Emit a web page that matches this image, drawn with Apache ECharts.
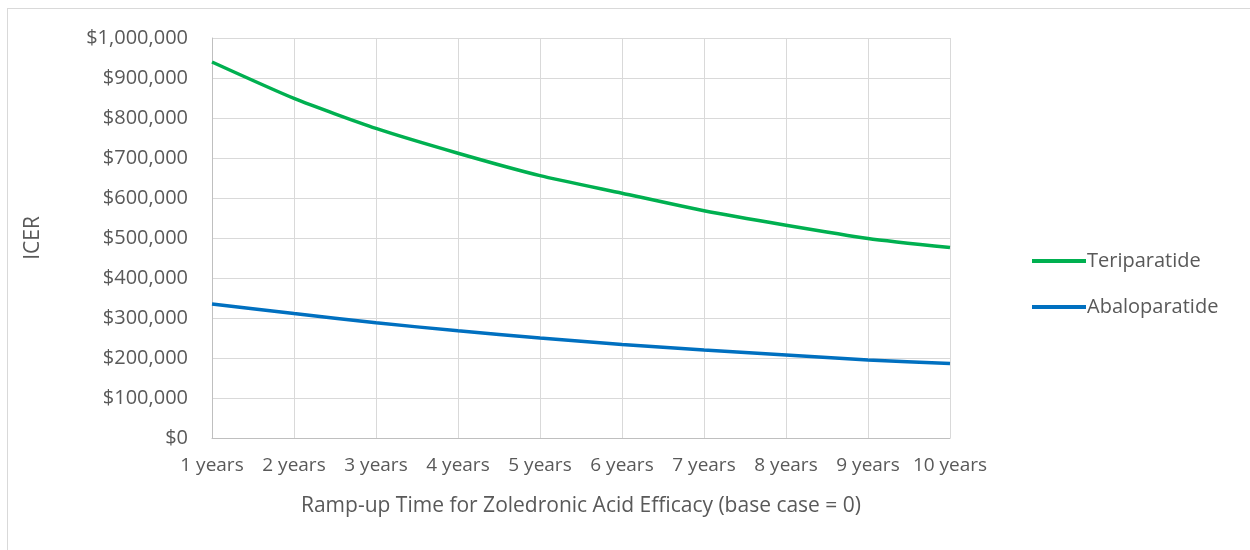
<!DOCTYPE html>
<html>
<head>
<meta charset="utf-8">
<script src="https://cdn.jsdelivr.net/npm/echarts@6/dist/echarts.min.js"></script>
<style>
  html, body { margin: 0; padding: 0; background: #fff; }
  #frame { position: absolute; left: 7px; top: 8px; width: 1250px; height: 550px; border: 1px solid #d9d9d9; box-sizing: border-box; }
  #chart { width: 1250px; height: 550px; }
</style>
</head>
<body>
<div id="frame"></div>
<div id="chart"></div>
<script>
// ramp-up time categories
const years = ['1 years', '2 years', '3 years', '4 years', '5 years', '6 years', '7 years', '8 years', '9 years', '10 years']

// ICER values
const teriparatide = [940000, 849000, 774000, 712000, 656000, 612000, 568000, 532000, 499000, 476000]
const abaloparatide = [335000, 311000, 288000, 268000, 250000, 234000, 220000, 207500, 195000, 186000]

const textColor = '#595959'
const font = '"Open Sans", "Noto Sans", sans-serif'

const chart = echarts.init(document.getElementById('chart'))
chart.setOption({
  animation: false,
  textStyle: { fontFamily: font },
  grid: { left: 212, top: 38, right: 300, bottom: 112 },
  legend: {
    orient: 'vertical',
    left: 1032,
    top: 251,
    padding: 0,
    itemWidth: 54,
    itemHeight: 4,
    itemGap: 26,
    icon: 'rect',
    textStyle: { color: textColor, fontSize: 20, fontFamily: font, padding: [0, 0, 0, -4] },
    data: ['Teriparatide', 'Abaloparatide']
  },
  xAxis: {
    type: 'category',
    data: years,
    boundaryGap: false,
    name: 'Ramp-up Time for Zoledronic Acid Efficacy (base case = 0)',
    nameLocation: 'middle',
    nameGap: 58,
    nameTextStyle: { color: textColor, fontSize: 21, fontFamily: font },
    axisLine: { lineStyle: { color: '#bfbfbf', width: 1 } },
    axisTick: { show: false },
    axisLabel: { color: textColor, fontSize: 19, margin: 18, interval: 0, fontFamily: font },
    splitLine: { show: true, interval: 0, lineStyle: { color: '#d9d9d9', width: 1 } }
  },
  yAxis: {
    type: 'value',
    min: 0,
    max: 1000000,
    interval: 100000,
    name: 'ICER',
    nameLocation: 'middle',
    nameGap: 168,
    nameTextStyle: { color: textColor, fontSize: 21, fontFamily: font },
    axisLine: { show: true, lineStyle: { color: '#bfbfbf', width: 1 } },
    axisTick: { show: false },
    axisLabel: {
      color: textColor,
      fontSize: 20,
      margin: 24,
      fontFamily: font,
      formatter: v => '$' + v.toLocaleString('en-US')
    },
    splitLine: { lineStyle: { color: '#d9d9d9', width: 1 } }
  },
  series: [
    {
      name: 'Teriparatide',
      type: 'line',
      data: teriparatide,
      smooth: 0.2,
      symbol: 'none',
      lineStyle: { color: '#00b050', width: 3.5 },
      itemStyle: { color: '#00b050' }
    },
    {
      name: 'Abaloparatide',
      type: 'line',
      data: abaloparatide,
      smooth: 0.2,
      symbol: 'none',
      lineStyle: { color: '#0070c0', width: 3.5 },
      itemStyle: { color: '#0070c0' }
    }
  ]
})
</script>
</body>
</html>
